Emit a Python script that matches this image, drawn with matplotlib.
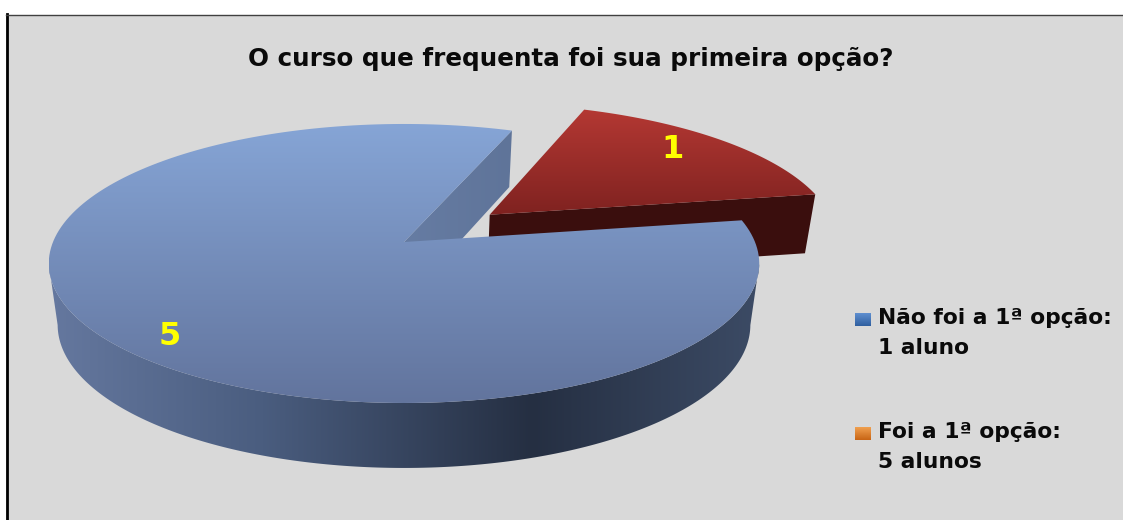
import numpy as np
import matplotlib
matplotlib.use("Agg")
import matplotlib.pyplot as plt
from matplotlib.colors import LinearSegmentedColormap
from matplotlib.patches import Polygon, Rectangle

title = "O curso que frequenta foi sua primeira opção?"
values = [5, 1]
value_labels = ["5", "1"]
legend_labels = ["Não foi a 1ª opção:\n1 aluno", "Foi a 1ª opção:\n5 alunos"]
legend_colors = [("#5f8fd0", "#2f5f9f"), ("#f0a050", "#c86414")]

plt.rcParams["font.family"] = ["DejaVu Sans"]

# pie geometry in pixels, the disc is drawn in perspective
cx, cy = 404, 242
fx, fy = 351, 136.2
k = 0.154
start = 80.6          # clockwise from the back of the pie
explode = 0.326


def project(u, v, bottom=False):
    u = np.asarray(u, dtype=float)
    v = np.asarray(v, dtype=float)
    w = 1 + k * v
    x = fx * u / w
    y = -fy * v / w
    if bottom:
        x = x * 0.975
        y = y + 60.6 - 4.36 * v
    return cx + x, cy + y


def arc(a0, a1, r=1.0, off=(0, 0), bottom=False, n=200):
    a = np.radians(np.linspace(a0, a1, n))
    return project(off[0] + r * np.sin(a), off[1] + r * np.cos(a), bottom)


def gradient_fill(ax, xs, ys, stops, horizontal=False):
    cmap = LinearSegmentedColormap.from_list("g", stops)
    poly = Polygon(np.column_stack([xs, ys]), closed=True, fc="none", ec="none")
    ax.add_patch(poly)
    grad = np.linspace(0, 1, 256)
    grad = grad[None, :] if horizontal else grad[:, None]
    im = ax.imshow(grad, cmap=cmap, aspect="auto", interpolation="bilinear",
                   extent=[min(xs), max(xs), max(ys), min(ys)], zorder=poly.get_zorder())
    im.set_clip_path(poly)
    return im


def wedge_top(a0, a1, off=(0, 0)):
    x, y = arc(a0, a1, off=off)
    ax0, ay0 = project(off[0], off[1])
    return np.r_[ax0, x], np.r_[ay0, y]


def cut_face(angle, off=(0, 0)):
    a = np.radians(angle)
    e = (off[0] + np.sin(a), off[1] + np.cos(a))
    p = [project(off[0], off[1]), project(*e), project(*e, bottom=True), project(off[0], off[1], bottom=True)]
    return [float(q[0]) for q in p], [float(q[1]) for q in p]


fig = plt.figure(figsize=(11.23, 5.2), dpi=100, facecolor="white")
ax = fig.add_axes([0, 0, 1, 1])
ax.set_xlim(0, 1123)
ax.set_ylim(520, 0)
ax.axis("off")

# chart area and its frame
ax.add_patch(Rectangle((6, 14.5), 1120, 510, fc="#d9d9d9", ec="none"))
ax.plot([6.5, 6.5], [14, 520], color="black", lw=2)
ax.plot([6, 1123], [14.5, 14.5], color="#404040", lw=1)

total = sum(values)
big_sweep = 360 * values[0] / total
small_sweep = 360 * values[1] / total
big_start = start
big_end = start + big_sweep
small_start = big_end
small_end = small_start + small_sweep
mid = np.radians((small_start + small_end) / 2)
off = (explode * np.sin(mid), explode * np.cos(mid))

# red slice, pulled out of the pie
xs, ys = cut_face(small_end, off)
ax.add_patch(Polygon(np.column_stack([xs, ys]), fc="#3a0e0d", ec="none"))
xs, ys = wedge_top(small_start, small_end, off)
gradient_fill(ax, xs, ys, ["#b43833", "#7f2220"])

# blue slice: cut face, outer wall, then top
xs, ys = cut_face(big_end)
gradient_fill(ax, xs, ys, ["#667ca3", "#5f7499"], horizontal=True)

# wall runs between the two side extremes of the perspective ellipse
tx, ty = arc(99, 261)
bx, by = arc(99, 261, bottom=True)
wall_stops = [(0, "#65789f"), (0.3, "#4a5d7f"), (0.68, "#252f42"), (1, "#3c4b65")]
gradient_fill(ax, np.r_[tx, bx[::-1]], np.r_[ty, by[::-1]], wall_stops, horizontal=True)

xs, ys = wedge_top(big_start, big_end)
gradient_fill(ax, xs, ys, ["#86a5d6", "#62749d"])

# value labels on the slices
lx, ly = project(0.87 * np.sin(np.radians(224)), 0.87 * np.cos(np.radians(224)))
ax.text(lx, ly, value_labels[0], color="#ffff00", fontsize=23, fontweight="bold", ha="center", va="center")
lx, ly = project(off[0] + 0.82 * np.sin(np.radians(48)), off[1] + 0.82 * np.cos(np.radians(48)))
ax.text(lx - 2, ly, value_labels[1], color="#ffff00", fontsize=23, fontweight="bold", ha="center", va="center")

ax.text(571, 59, title, fontsize=17.7, fontweight="bold", color="#0a0a0a", ha="center", va="center")

# legend
for i, y in enumerate([333, 447]):
    gradient_fill(ax, [855, 871, 871, 855], [y - 20, y - 20, y - 7, y - 7], list(legend_colors[i]))
    ax.text(878, y, legend_labels[i], fontsize=15.7, fontweight="bold", color="#0a0a0a",
            ha="left", va="center", linespacing=1.6)

ax.set_xlim(0, 1123)
ax.set_ylim(520, 0)
fig.savefig("out.png", dpi=100)
